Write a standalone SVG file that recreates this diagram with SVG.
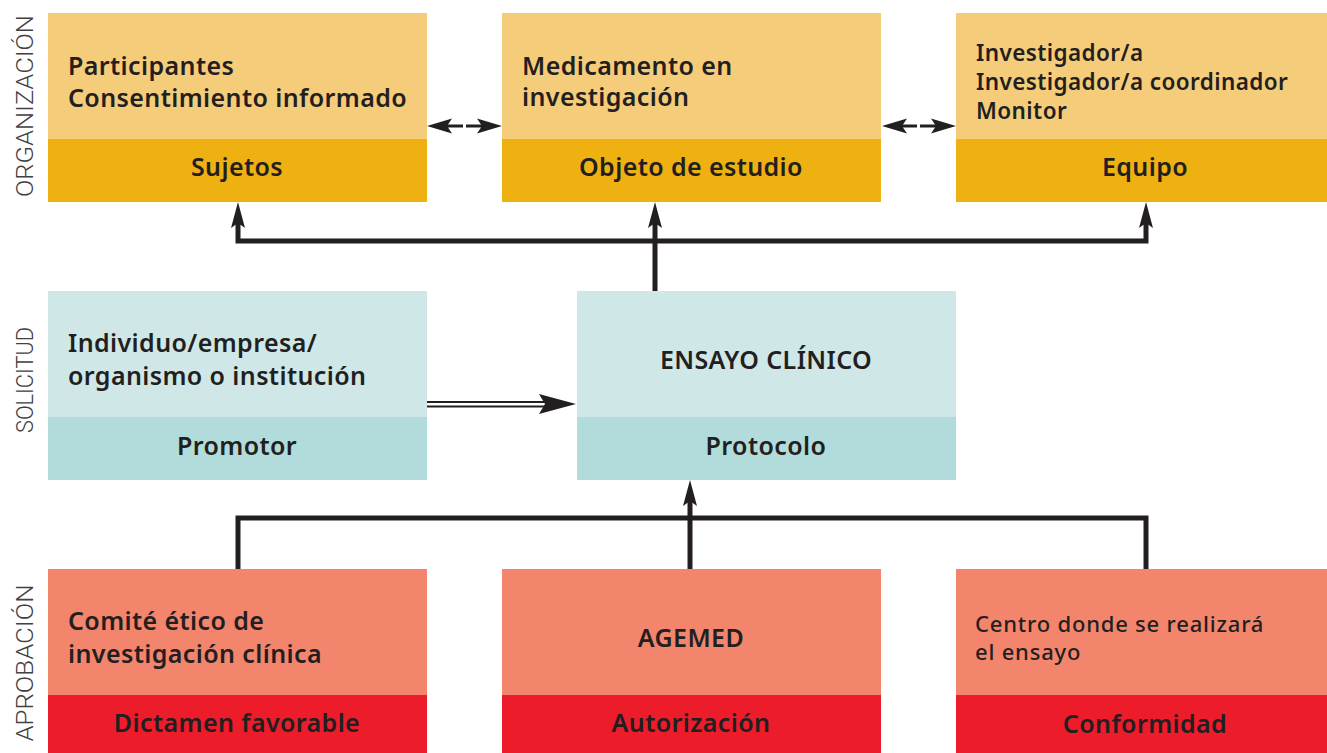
<svg xmlns="http://www.w3.org/2000/svg" width="1327" height="753" viewBox="0 0 1327 753">
<style>
.t{font-family:"Noto Sans","Open Sans","Liberation Sans",sans-serif;font-weight:600;font-size:25px;fill:#231f20;letter-spacing:0.4px}
.ts{font-family:"Noto Sans","Open Sans","Liberation Sans",sans-serif;font-weight:600;font-size:22.5px;fill:#231f20;letter-spacing:0.4px}
.tn{font-family:"Noto Sans","Open Sans","Liberation Sans",sans-serif;font-weight:500;font-size:22px;fill:#231f20;letter-spacing:0.8px}
.c{text-anchor:middle}
.side{font-family:"Roboto","Liberation Sans",sans-serif;font-weight:300;font-size:23px;fill:#414042;text-anchor:middle}
.ol{fill:#f5cc7a}.od{fill:#eeb111}
.sl{fill:#cfe8e7}.sd{fill:#b1dcdb}
.al{fill:#f4856d}.ad{fill:#ec1c2b}
.ln{fill:none;stroke:#231f20;stroke-width:5}
.hd{fill:#231f20}
</style>
<defs>
<marker id="ah" markerUnits="userSpaceOnUse" markerWidth="30" markerHeight="16" refX="5" refY="7" orient="auto-start-reverse" viewBox="0 0 30 16">
<path d="M0,0 L26,7 L0,14 L5,7 Z" fill="#231f20"/>
</marker>
</defs>
<rect width="1327" height="753" fill="#ffffff"/>

<g id="labels">
<text class="side" transform="translate(33,106) rotate(-90)" textLength="182" lengthAdjust="spacingAndGlyphs">ORGANIZACIÓN</text>
<text class="side" transform="translate(33,380) rotate(-90)" textLength="106" lengthAdjust="spacingAndGlyphs">SOLICITUD</text>
<text class="side" transform="translate(33,663) rotate(-90)" textLength="157" lengthAdjust="spacingAndGlyphs">APROBACIÓN</text>
</g>

<g id="sujetos">
<rect class="ol" x="48" y="13" width="379" height="126"/>
<rect class="od" x="48" y="139" width="379" height="63"/>
<text class="t" x="68" y="75">Participantes</text>
<text class="t" x="68" y="107">Consentimiento informado</text>
<text class="t c" x="237" y="176">Sujetos</text>
</g>

<g id="objeto">
<rect class="ol" x="502" y="13" width="379" height="126"/>
<rect class="od" x="502" y="139" width="379" height="63"/>
<text class="t" x="522" y="75">Medicamento en</text>
<text class="t" x="522" y="106">investigación</text>
<text class="t c" x="691" y="176">Objeto de estudio</text>
</g>

<g id="equipo">
<rect class="ol" x="956" y="13" width="379" height="126"/>
<rect class="od" x="956" y="139" width="379" height="63"/>
<text class="ts" x="976" y="61">Investigador/a</text>
<text class="ts" x="976" y="90">Investigador/a coordinador</text>
<text class="ts" x="976" y="119">Monitor</text>
<text class="t c" x="1145" y="176">Equipo</text>
</g>

<g id="promotor">
<rect class="sl" x="48" y="291" width="379" height="126"/>
<rect class="sd" x="48" y="417" width="379" height="63"/>
<text class="t" x="68" y="352">Individuo/empresa/</text>
<text class="t" x="68" y="385">organismo o institución</text>
<text class="t c" x="237" y="455">Promotor</text>
</g>

<g id="ensayo">
<rect class="sl" x="577" y="291" width="379" height="126"/>
<rect class="sd" x="577" y="417" width="379" height="63"/>
<text class="t c" x="766" y="369">ENSAYO CLÍNICO</text>
<text class="t c" x="766" y="455">Protocolo</text>
</g>

<g id="comite">
<rect class="al" x="48" y="569" width="379" height="126"/>
<rect class="ad" x="48" y="695" width="379" height="58"/>
<text class="t" x="68" y="630">Comité ético de</text>
<text class="t" x="68" y="663">investigación clínica</text>
<text class="t c" x="237" y="732">Dictamen favorable</text>
</g>

<g id="agemed">
<rect class="al" x="502" y="569" width="379" height="126"/>
<rect class="ad" x="502" y="695" width="379" height="58"/>
<text class="t c" x="691" y="647">AGEMED</text>
<text class="t c" x="691" y="732">Autorización</text>
</g>

<g id="centro">
<rect class="al" x="956" y="569" width="379" height="126"/>
<rect class="ad" x="956" y="695" width="379" height="58"/>
<text class="tn" x="975" y="632">Centro donde se realizará</text>
<text class="tn" x="975" y="660">el ensayo</text>
<text class="t c" x="1145" y="733">Conformidad</text>
</g>

<g id="connectors">
<path class="ln" d="M238,223 V241 H1146 V223" marker-start="url(#ah)" marker-end="url(#ah)"/>
<path class="ln" d="M655,291 V223" marker-end="url(#ah)"/>
<path class="ln" d="M238,569 V518 H1146 V569"/>
<path class="ln" d="M690,569 V501" marker-end="url(#ah)"/>
<path d="M446,126 H463 M466,126 H483" stroke="#231f20" stroke-width="3" fill="none"/>
<path class="hd" d="M427,126 L452,118.5 L447,126 L452,133.5 Z"/>
<path class="hd" d="M502,126 L477,118.5 L482,126 L477,133.5 Z"/>
<path d="M900,126 H917 M920,126 H937" stroke="#231f20" stroke-width="3" fill="none"/>
<path class="hd" d="M882,126 L907,118.5 L902,126 L907,133.5 Z"/>
<path class="hd" d="M956,126 L931,118.5 L936,126 L931,133.5 Z"/>
<path d="M427,402 H548 M427,406.5 H548" stroke="#231f20" stroke-width="2.2" fill="none"/>
<path class="hd" d="M576,404 L539,394 L545,404 L539,414 Z"/>
</g>
</svg>
